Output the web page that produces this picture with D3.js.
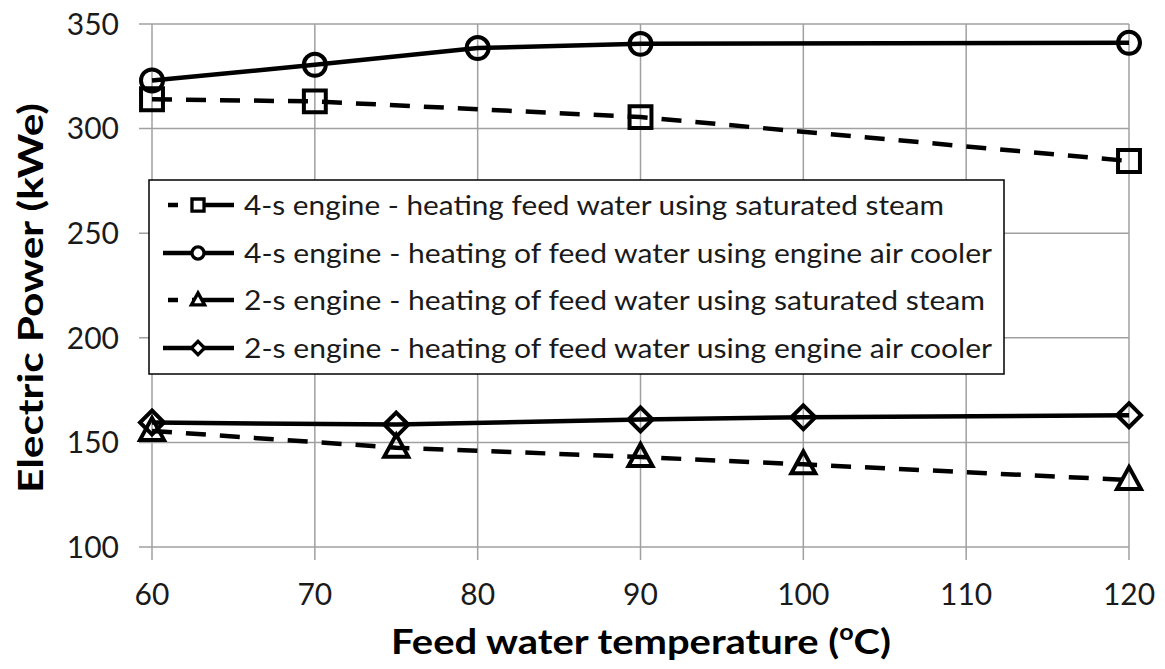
<!DOCTYPE html>
<html><head><meta charset="utf-8">
<script src="https://cdn.jsdelivr.net/npm/d3@7"></script>
<style>body{margin:0;background:#fff}svg{display:block}</style>
</head><body>
<script>
const xTicks = [60, 70, 80, 90, 100, 110, 120];
const yTicks = [100, 150, 200, 250, 300, 350];
const seriesNames = [
  "4-s engine - heating feed water using saturated steam",
  "4-s engine - heating of feed water using engine air cooler",
  "2-s engine - heating of feed water using saturated steam",
  "2-s engine - heating of feed water using engine air cooler"
];
const s1x = [60, 70, 90, 120];
const s1y = [314, 313, 305.5, 284.5];
const s2x = [60, 70, 80, 90, 120];
const s2y = [323, 330.5, 338.5, 340.5, 341];
const s3x = [60, 75, 90, 100, 120];
const s3y = [155.5, 147.5, 143, 139.5, 132];
const s4x = [60, 75, 90, 100, 120];
const s4y = [159.5, 158.5, 161, 162, 163];
const markers = ["square", "circle", "triangle", "diamond"];
const dashed = [true, false, true, false];

const W = 1165, H = 669;
const svg = d3.select("body").append("svg").attr("width", W).attr("height", H);
const x = d3.scaleLinear().domain([60, 120]).range([152, 1129]);
const y = d3.scaleLinear().domain([100, 350]).range([547, 24]);
const font = "Lato, 'Open Sans', sans-serif";

// grid
const g = svg.append("g");
g.selectAll(".hg").data(yTicks).join("line")
  .attr("x1", 139).attr("x2", x(120)).attr("y1", d => y(d)).attr("y2", d => y(d))
  .attr("stroke", "#a0a0a0").attr("stroke-width", 1.5);
g.selectAll(".vg").data(xTicks).join("line")
  .attr("x1", d => x(d)).attr("x2", d => x(d)).attr("y1", y(350)).attr("y2", 560)
  .attr("stroke", "#a0a0a0").attr("stroke-width", 1.5);

// tick labels
svg.selectAll(".yl").data(yTicks).join("text")
  .attr("x", 119).attr("y", d => y(d)).attr("dy", "0.36em")
  .attr("text-anchor", "end").attr("font-family", font).attr("font-size", 30)
  .attr("fill", "#1a1a1a").text(d => d);
svg.selectAll(".xl").data(xTicks).join("text")
  .attr("x", d => x(d)).attr("y", 605)
  .attr("text-anchor", "middle").attr("font-family", font).attr("font-size", 30)
  .attr("fill", "#1a1a1a").text(d => d);

// axis titles
const xt = svg.append("text").attr("x", 641).attr("y", 654).attr("text-anchor", "middle")
  .attr("font-family", font).attr("font-size", 35).attr("font-weight", "bold").attr("fill", "#000");
xt.append("tspan").text("Feed water temperature (");
xt.append("tspan").attr("font-size", 22).attr("dy", -14).text("o");
xt.append("tspan").attr("dy", 14).text("C)");
const xtLen = xt.node().getComputedTextLength();
xt.attr("transform", `translate(641,0) scale(${500 / xtLen},1) translate(-641,0)`);

svg.append("text").attr("transform", "translate(43,298) rotate(-90)").attr("text-anchor", "middle")
  .attr("font-family", font).attr("font-size", 35).attr("font-weight", "bold").attr("fill", "#000")
  .attr("textLength", 390).attr("lengthAdjust", "spacingAndGlyphs")
  .text("Electric Power (kWe)");

const series = [
  {xs: s1x, ys: s1y}, {xs: s2x, ys: s2y}, {xs: s3x, ys: s3y}, {xs: s4x, ys: s4y}
];
const line = d3.line().x(d => x(d[0])).y(d => y(d[1]));

function markerPath(type) {
  if (type === "square") return d3.symbol(d3.symbolSquare, 480)();
  if (type === "circle") return d3.symbol(d3.symbolCircle, 380)();
  if (type === "triangle") return "M0,-13L12,9L-12,9Z";
  if (type === "diamond") return "M0,-12L12,0L0,12L-12,0Z";
}

series.forEach((s, i) => {
  const pts = s.xs.map((v, k) => [v, s.ys[k]]);
  svg.append("path").datum(pts).attr("d", line).attr("fill", "none")
    .attr("stroke", "#000").attr("stroke-width", 4.5)
    .attr("stroke-dasharray", dashed[i] ? "20,14" : null);
  svg.selectAll(".m" + i).data(pts).join("path")
    .attr("transform", d => `translate(${x(d[0])},${y(d[1])})`)
    .attr("d", markerPath(markers[i]))
    .attr("fill", "none").attr("stroke", "#000").attr("stroke-width", 4);
});

// legend
const lg = svg.append("g");
lg.append("rect").attr("x", 149).attr("y", 180).attr("width", 855).attr("height", 194)
  .attr("fill", "#fff").attr("stroke", "#000").attr("stroke-width", 1.5);
const rowY = [205, 253, 300, 348];
const rowLen = [700, 748, 741, 748];
seriesNames.forEach((name, i) => {
  const ry = rowY[i];
  lg.append("line").attr("x1", dashed[i] ? 168 : 163).attr("x2", 234).attr("y1", ry).attr("y2", ry)
    .attr("stroke", "#000").attr("stroke-width", 4.5)
    .attr("stroke-dasharray", dashed[i] ? "10,14,60" : null);
  lg.append("path").attr("transform", `translate(198,${ry}) scale(0.55)`)
    .attr("d", markerPath(markers[i])).attr("fill", "#fff").attr("stroke", "#000").attr("stroke-width", 6);
  lg.append("text").attr("x", 244).attr("y", ry).attr("dy", "0.36em")
    .attr("font-family", font).attr("font-size", 27).attr("fill", "#1a1a1a")
    .attr("textLength", rowLen[i]).attr("lengthAdjust", "spacingAndGlyphs").text(name);
});
</script>
</body></html>
